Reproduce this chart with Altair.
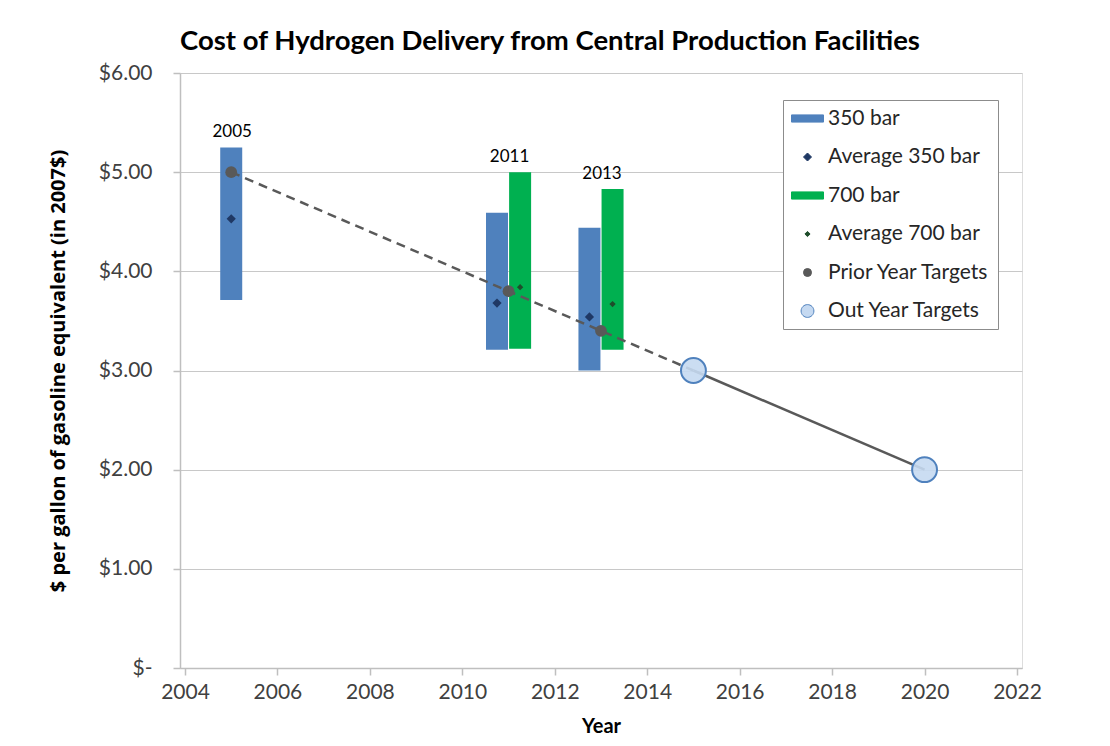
import altair as alt
import pandas as pd

# ---- data ----
bar_year = [2005.0, 2010.75, 2011.25, 2012.75, 2013.25]
bar_series = ["350 bar", "350 bar", "700 bar", "350 bar", "700 bar"]
bar_low = [3.71, 3.21, 3.22, 3.00, 3.21]
bar_high = [5.25, 4.59, 5.00, 4.44, 4.83]
bar_avg = [4.53, 3.68, 3.84, 3.54, 3.67]
bar_group = ["2005", "2011", "2011", "2013", "2013"]

target_year = [2005, 2011, 2013, 2015, 2020]
target_value = [5.00, 3.80, 3.40, 3.00, 2.00]
target_kind = ["Prior Year Targets", "Prior Year Targets", "Prior Year Targets",
               "Out Year Targets", "Out Year Targets"]

legend_items = ["350 bar", "Average 350 bar", "700 bar", "Average 700 bar",
                "Prior Year Targets", "Out Year Targets"]
legend_fill = ["#4f81bd", "#1f3864", "#00b050", "#1e4d2b", "#595959", "#c5d9f1"]
legend_stroke = ["#4f81bd", "#1f3864", "#00b050", "#1e4d2b", "#595959", "#4f81bd"]
legend_shape = ["M-4,-0.9H4V0.9H-4Z", "diamond", "M-4,-0.9H4V0.9H-4Z",
                "M0,-0.65L0.65,0L0,0.65L-0.65,0Z", "circle",
                "M-1.6,0A1.6,1.6,0,1,0,1.6,0A1.6,1.6,0,1,0,-1.6,0Z"]

x_ticks = list(range(2004, 2023, 2))
y_ticks = [0, 1, 2, 3, 4, 5, 6]

FONT = "Lato"
TXT = "#404040"

bars = pd.DataFrame({"year": bar_year, "series": bar_series, "low": bar_low,
                     "high": bar_high, "avg": bar_avg, "group": bar_group})
labels = bars.groupby("group", as_index=False).agg(year=("year", "mean"), top=("high", "max"))
labels.loc[labels["group"] == "2005", "year"] = 2005.0
targets = pd.DataFrame({"year": target_year, "value": target_value, "kind": target_kind})
legend_df = pd.DataFrame({"series": legend_items})

xs = alt.Scale(domain=[2004, 2022], nice=False)
ys = alt.Scale(domain=[0, 6], nice=False)

x_axis = alt.Axis(values=x_ticks, format="d", grid=False, title="Year",
                  labelFontSize=21, labelFont=FONT, labelColor=TXT, labelPadding=6,
                  titleFontSize=20, titleFont=FONT, titleFontWeight="bold", titleColor="black",
                  titlePadding=14, domainColor="#bfbfbf", tickColor="#bfbfbf", tickSize=7,
                  domainWidth=1.5, tickWidth=1.5)
y_axis = alt.Axis(values=y_ticks, grid=True, gridColor="#c8c8c8", gridWidth=1.2,
                  title="$ per gallon of gasoline equivalent (in 2007$)",
                  labelExpr="datum.value == 0 ? '$-' : '$' + format(datum.value, '.2f')",
                  labelFontSize=21, labelFont=FONT, labelColor=TXT, labelPadding=21,
                  titleFontSize=20, titleFont="Open Sans", titleFontWeight="bold",
                  titleColor="black", titlePadding=30,
                  domainColor="#bfbfbf", tickColor="#bfbfbf", tickSize=7,
                  domainWidth=1.5, tickWidth=1.5)

base_bars = alt.Chart(bars)

bar350 = base_bars.transform_filter(alt.datum.series == "350 bar").mark_bar(
    size=22, color="#4f81bd").encode(
    x=alt.X("year:Q", scale=xs, axis=x_axis),
    y=alt.Y("low:Q", scale=ys, axis=y_axis),
    y2="high:Q")
bar700 = base_bars.transform_filter(alt.datum.series == "700 bar").mark_bar(
    size=22, color="#00b050").encode(x="year:Q", y="low:Q", y2="high:Q")

dashed = alt.Chart(targets).transform_filter(alt.datum.year <= 2015).mark_line(
    color="#595959", strokeWidth=2.5, strokeDash=[9, 6]).encode(x="year:Q", y="value:Q")
solid = alt.Chart(targets).transform_filter(alt.datum.year >= 2015).mark_line(
    color="#595959", strokeWidth=2.5).encode(x="year:Q", y="value:Q")

avg350 = base_bars.transform_filter(alt.datum.series == "350 bar").mark_point(
    shape="diamond", filled=True, size=85, color="#1f3864", opacity=1).encode(
    x="year:Q", y="avg:Q")
avg700 = base_bars.transform_filter(alt.datum.series == "700 bar").mark_point(
    shape="diamond", filled=True, size=40, color="#1e4d2b", opacity=1).encode(
    x="year:Q", y="avg:Q")

prior = alt.Chart(targets).transform_filter(alt.datum.kind == "Prior Year Targets").mark_point(
    shape="circle", filled=True, size=140, color="#595959", opacity=1).encode(
    x="year:Q", y="value:Q")
outyear = alt.Chart(targets).transform_filter(alt.datum.kind == "Out Year Targets").mark_point(
    shape="circle", filled=True, size=620, fill="#c5d9f1", stroke="#4f81bd",
    strokeWidth=2, opacity=1, fillOpacity=0.9).encode(x="year:Q", y="value:Q")

text = alt.Chart(labels).mark_text(font=FONT, fontSize=17, color="black",
                                   baseline="alphabetic", dy=-10, dx=1).encode(
    x="year:Q", y="top:Q", text="group:N")

# legend-only layer: no rows are drawn, the legend lists the explicit domain
legend_layer = alt.Chart(legend_df).transform_filter("false").mark_point(
    filled=True, opacity=1).encode(
    fill=alt.Fill("series:N", scale=alt.Scale(domain=legend_items, range=legend_fill),
                  legend=alt.Legend(title=None, orient="none", legendX=603, legendY=27,
                                    fillColor="white", strokeColor="#8c8c8c",
                                    padding=8, symbolSize=64, symbolOpacity=1,
                                    symbolStrokeWidth=1, symbolOffset=6,
                                    labelFontSize=21, labelFont=FONT, labelColor="#262626",
                                    labelOffset=10, rowPadding=16.5, labelLimit=300)),
    shape=alt.Shape("series:N", scale=alt.Scale(domain=legend_items, range=legend_shape)),
    stroke=alt.Stroke("series:N", scale=alt.Scale(domain=legend_items, range=legend_stroke)),
)

chart = alt.layer(bar350, bar700, dashed, solid, avg350, avg700, prior, outyear, text,
                  legend_layer).properties(
    width=842, height=595,
    title=alt.TitleParams("Cost of Hydrogen Delivery from Central Production Facilities",
                          font=FONT, fontSize=27.5, fontWeight="bold", color="black",
                          anchor="middle", dx=-51, offset=7),
    autosize=alt.AutoSizeParams(type="none"),
    padding={"left": 172, "top": 65, "right": 80, "bottom": 69},
).configure_view(stroke=None).configure(background="white")

chart.save("out.html", embed_options={"renderer": "svg", "actions": False})
